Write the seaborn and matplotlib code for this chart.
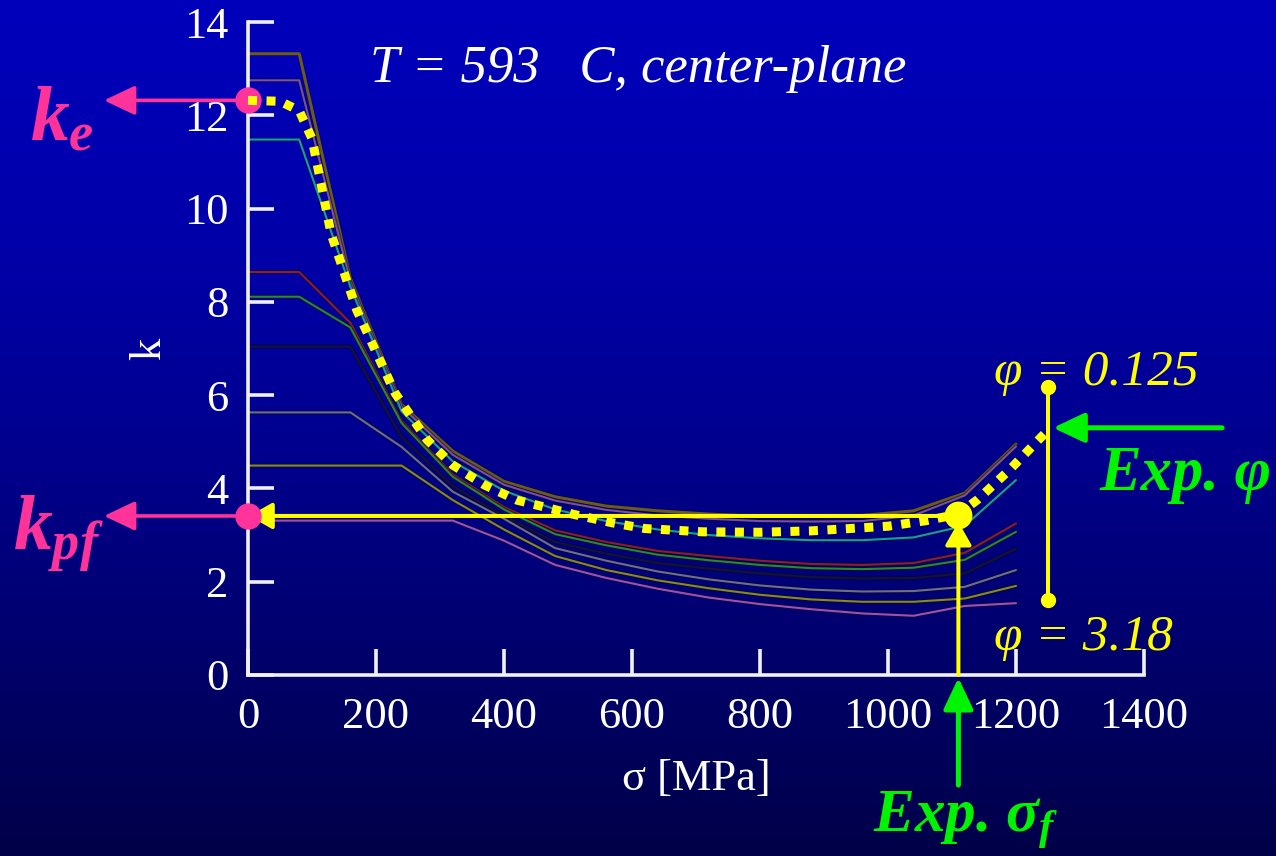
import numpy as np
import pandas as pd
import matplotlib.pyplot as plt
import seaborn as sns
from matplotlib import patheffects as pe

# stress grid of the model curves [MPa]
sigma_grid = [0, 80, 160, 240, 320, 400, 480, 560, 640, 720, 800, 880, 960, 1040, 1120, 1200]

# k(sigma) for the family of phi values (top to bottom)
k_a = [13.32, 13.32, 8.50, 5.80, 4.80, 4.15, 3.82, 3.62, 3.52, 3.45, 3.40, 3.40, 3.42, 3.52, 3.90, 4.95]
k_b = [12.75, 12.75, 8.42, 5.75, 4.72, 4.08, 3.74, 3.54, 3.42, 3.35, 3.30, 3.29, 3.30, 3.42, 3.85, 4.90]
k_c = [11.48, 11.48, 8.32, 5.65, 4.58, 3.95, 3.55, 3.30, 3.12, 3.00, 2.93, 2.89, 2.89, 2.95, 3.20, 4.18]
k_d = [8.64, 8.64, 7.55, 5.45, 4.30, 3.60, 3.10, 2.85, 2.66, 2.55, 2.45, 2.38, 2.36, 2.40, 2.62, 3.25]
k_e_ = [8.11, 8.11, 7.45, 5.40, 4.25, 3.55, 3.02, 2.78, 2.58, 2.46, 2.36, 2.29, 2.27, 2.30, 2.47, 3.07]
k_f = [7.04, 7.04, 7.04, 5.10, 4.05, 3.40, 2.85, 2.60, 2.40, 2.28, 2.18, 2.10, 2.07, 2.08, 2.18, 2.71]
k_g = [5.63, 5.63, 5.63, 4.89, 3.93, 3.35, 2.72, 2.45, 2.22, 2.05, 1.92, 1.83, 1.79, 1.80, 1.89, 2.25]
k_h = [4.49, 4.49, 4.49, 4.49, 3.75, 3.12, 2.55, 2.25, 2.03, 1.86, 1.72, 1.62, 1.57, 1.57, 1.64, 1.91]
k_i = [3.31, 3.31, 3.31, 3.31, 3.31, 2.88, 2.36, 2.08, 1.85, 1.66, 1.52, 1.41, 1.32, 1.27, 1.48, 1.54]

curve_names = ["a", "b", "c", "d", "e", "f", "g", "h", "i"]
curve_colors = ["#6b5a1e", "#7b4fa0", "#14a0a0", "#8b1e2e", "#2a8a2a",
                "#12123a", "#6e6e88", "#8a8a1a", "#a050b0"]

# experimental fit (yellow dotted)
sigma_fit = [0, 50, 80, 100, 130, 170, 230, 280, 320, 370, 420, 510, 570, 620,
             710, 800, 880, 1000, 1060, 1110, 1140, 1190, 1250]
k_fit = [12.32, 12.30, 12.10, 11.50, 9.45, 7.82, 6.04, 5.04, 4.50, 4.07, 3.75, 3.44, 3.26, 3.14,
         3.07, 3.06, 3.09, 3.19, 3.31, 3.45, 3.76, 4.40, 5.25]

k_e_val = 12.32
k_pf_val = 3.41
sigma_f = 1110
sigma_phi = 1250
phi_lo, phi_hi = 1.61, 6.18
k_exp_phi = 5.3

PINK = "#ff3399"
YEL = "#ffff00"
GRN = "#00f400"

sns.set_style("ticks")
plt.rcParams['font.family'] = ['Liberation Serif', 'DejaVu Serif']
plt.rcParams['mathtext.fontset'] = 'custom'
plt.rcParams['mathtext.it'] = 'Liberation Serif:italic:bold'
plt.rcParams['mathtext.rm'] = 'Liberation Serif:bold'
plt.rcParams['mathtext.bf'] = 'Liberation Serif:bold'

W, H = 1276, 856
fig = plt.figure(figsize=(W / 100, H / 100), dpi=100)
fig.patch.set_facecolor("#0000b0")

# blue gradient background
bg = fig.add_axes([0, 0, 1, 1], zorder=-10)
rows = np.arange(H)
blue = np.interp(rows, [0, 250, 450, 650, 855], [188, 168, 142, 108, 72]) / 255
grad = np.zeros((H, 1, 3))
grad[:, 0, 2] = blue
bg.imshow(grad, aspect='auto', extent=[0, 1, 0, 1])
bg.axis('off')

ax = fig.add_axes([248 / W, 1 - 675 / H, 896 / W, 653 / H])
ax.patch.set_alpha(0)

rows = []
for name, vals in zip(curve_names, [k_a, k_b, k_c, k_d, k_e_, k_f, k_g, k_h, k_i]):
    for s, k in zip(sigma_grid, vals):
        rows.append((name, s, k))
df = pd.DataFrame(rows, columns=["curve", "sigma", "k"])
sns.lineplot(data=df, x="sigma", y="k", hue="curve", palette=dict(zip(curve_names, curve_colors)),
             estimator=None, sort=False, linewidth=1.5, legend=False, ax=ax)
for line in ax.get_lines():
    line.set_zorder(2)
    line.set_path_effects([pe.Stroke(linewidth=3.0, foreground="#080828", alpha=0.55), pe.Normal()])
ax.get_lines()[0].set_linewidth(2.2)

head = "-|>,head_length=0.7,head_width=0.4"

# yellow arrows and markers
ax.annotate("", xy=(2, k_pf_val), xytext=(sigma_f, k_pf_val), annotation_clip=False,
            arrowprops=dict(arrowstyle=head, color=YEL, lw=2.9, mutation_scale=20,
                            shrinkA=0, shrinkB=0), zorder=4)
ax.annotate("", xy=(sigma_f, 3.28), xytext=(sigma_f, 0), annotation_clip=False,
            arrowprops=dict(arrowstyle=head, color=YEL, lw=2.9, mutation_scale=20,
                            shrinkA=0, shrinkB=0), zorder=4)
fit = pd.DataFrame({"sigma": sigma_fit, "k": k_fit})
sns.lineplot(data=fit, x="sigma", y="k", color=YEL, linewidth=6.5, linestyle=(0, (1, 1.05)),
             estimator=None, sort=False, ax=ax, zorder=7, clip_on=False)
ax.plot([sigma_f], [3.43], "o", ms=19, color=YEL, zorder=6, clip_on=False)
ax.plot([sigma_phi, sigma_phi], [phi_lo, phi_hi], color=YEL, lw=2.9, marker="o", ms=10,
        zorder=5, clip_on=False)

# pink k markers
for kv in (k_e_val, k_pf_val):
    ax.annotate("", xy=(-225, kv), xytext=(0, kv), annotation_clip=False,
                arrowprops=dict(arrowstyle="-|>,head_length=0.95,head_width=0.45", color=PINK,
                                lw=2.6, mutation_scale=20, shrinkA=0, shrinkB=0))
    ax.plot([0], [kv], "o", ms=18, color=PINK, zorder=5, clip_on=False)

# green arrows
ax.annotate("", xy=(1258, k_exp_phi), xytext=(1522, k_exp_phi), annotation_clip=False,
            arrowprops=dict(arrowstyle="-|>,head_length=0.95,head_width=0.45", color=GRN,
                            lw=3.6, mutation_scale=20, shrinkA=0, shrinkB=0))
ax.annotate("", xy=(sigma_f, -0.06), xytext=(sigma_f, -2.36), annotation_clip=False,
            arrowprops=dict(arrowstyle="-|>,head_length=0.95,head_width=0.45", color=GRN,
                            lw=3.6, mutation_scale=20, shrinkA=0, shrinkB=0))

# axes styling
ax.set_xlim(0, 1400)
ax.set_ylim(0, 14)
ax.set_xticks(range(0, 1401, 200))
ax.set_yticks(range(0, 15, 2))
for side in ("top", "right"):
    ax.spines[side].set_visible(False)
for side in ("left", "bottom"):
    ax.spines[side].set_color("#f0f0f0")
    ax.spines[side].set_linewidth(2.6)
ax.tick_params(direction="in", length=19, width=2.6, color="#f0f0f0", labelcolor="white",
               labelsize=32)
ax.tick_params(axis="x", pad=16)
ax.tick_params(axis="y", pad=14)
ax.set_xlabel("σ [MPa]", color="white", fontsize=32)
ax.set_ylabel("k", color="white", fontsize=32)
ax.xaxis.set_label_coords(0.5, -0.128)
ax.yaxis.set_label_coords(-0.088, 0.5)

# texts
fig.text(370 / W, 1 - 82 / H, "T = 593   C, center-plane", style="italic", fontsize=38,
         color="white", va="baseline")
fig.text(994 / W, 1 - 385 / H, "φ = 0.125", style="italic", fontsize=37, color=YEL, va="baseline")
fig.text(994 / W, 1 - 650 / H, "φ = 3.18", style="italic", fontsize=37, color=YEL, va="baseline")
fig.text(1099 / W, 1 - 490 / H, "Exp. φ", style="italic", weight="bold", fontsize=45,
         color=GRN, va="baseline")
fig.text(873 / W, 1 - 832 / H, r"Exp. $\sigma_f$", style="italic", weight="bold", fontsize=44,
         color=GRN, va="baseline")
fig.text(30 / W, 1 - 141 / H, r"$k_e$", fontsize=56, color=PINK, va="baseline")
fig.text(13 / W, 1 - 549 / H, r"$k_{pf}$", fontsize=56, color=PINK, va="baseline")

fig.savefig("out.png", dpi=100)
